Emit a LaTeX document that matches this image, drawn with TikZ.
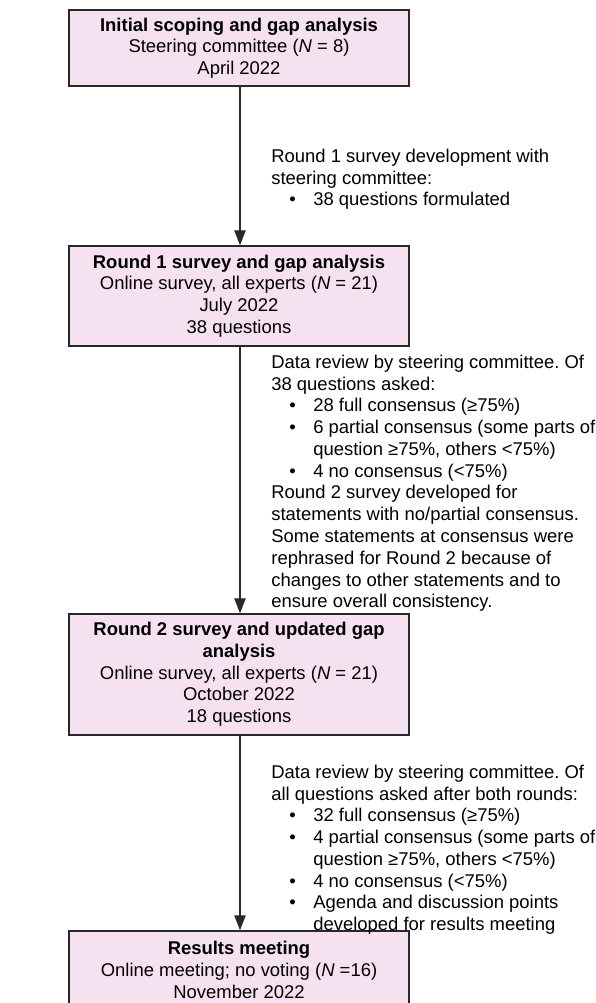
\documentclass[tikz,border=0pt]{standalone}
\usepackage{fontspec}
\setmainfont{Liberation Sans}
\usepackage{xcolor}
\usetikzlibrary{arrows.meta,positioning}
\frenchspacing
\definecolor{boxpink}{RGB}{246,225,240}
\definecolor{edge}{RGB}{40,40,40}
\newcommand{\bul}{\hspace*{0.36cm}\makebox[0.48cm][l]{\textbullet}}
\newcommand{\cont}{\hspace*{0.84cm}}

\begin{document}
\begin{tikzpicture}[
  x=0.02cm, y=-0.02cm,
  box/.style={draw=edge, line width=0.9pt, fill=boxpink, minimum width=6.8cm, align=center, inner sep=0pt, font=\fontsize{10.5}{12.35}\selectfont},
  note/.style={anchor=north west, align=left, inner sep=0pt, font=\fontsize{10.5}{12.4}\selectfont},
  arr/.style={-{Triangle[width=6.5pt,length=8.5pt]}, line width=0.6pt, draw=edge}
]
  \useasboundingbox (0,0) rectangle (595,1003);

  \node[box, minimum height=1.52cm] (scope) at (239,48) {\textbf{Initial scoping and gap analysis}\\Steering committee (\textit{N} = 8)\\April 2022};
  \node[box, minimum height=2.0cm] (round1) at (239,296) {\textbf{Round 1 survey and gap analysis}\\Online survey, all experts (\textit{N} = 21)\\July 2022\\38 questions};
  \node[box, minimum height=2.42cm] (round2) at (239,674.5) {\textbf{Round 2 survey and updated gap}\\\textbf{analysis}\\Online survey, all experts (\textit{N} = 21)\\October 2022\\18 questions};
  \node[box, minimum height=1.56cm] (results) at (239,970) {\textbf{Results meeting}\\Online meeting; no voting (\textit{N} =16)\\November 2022};

  \node[note] (dev) at (271,148.5) {Round 1 survey development with\\steering committee:\\\bul 38 questions formulated};
  \node[note] (review1) at (271,354.5) {Data review by steering committee. Of\\38 questions asked:\\\bul 28 full consensus (≥75\%)\\\bul 6 partial consensus (some parts of\\\cont question ≥75\%, others <75\%)\\\bul 4 no consensus (<75\%)\\Round 2 survey developed for\\statements with no/partial consensus.\\Some statements at consensus were\\rephrased for Round 2 because of\\changes to other statements and to\\ensure overall consistency.};
  \node[note] (review2) at (271,764.5) {Data review by steering committee. Of\\all questions asked after both rounds:\\\bul 32 full consensus (≥75\%)\\\bul 4 partial consensus (some parts of\\\cont question ≥75\%, others <75\%)\\\bul 4 no consensus (<75\%)\\\bul Agenda and discussion points\\\cont developed for results meeting};

  \draw[arr] ([xshift=0.02cm]scope.south) -- ([xshift=0.02cm]round1.north);
  \draw[arr] ([xshift=0.02cm]round1.south) -- ([xshift=0.02cm]round2.north);
  \draw[arr] ([xshift=0.02cm]round2.south) -- ([xshift=0.02cm]results.north);
\end{tikzpicture}
\end{document}
